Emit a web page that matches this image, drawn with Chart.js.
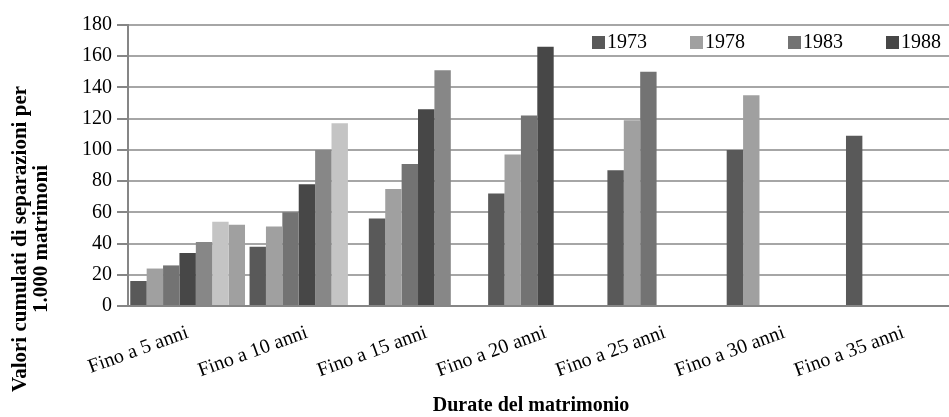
<!DOCTYPE html>
<html>
<head>
<meta charset="utf-8">
<script src="https://cdn.jsdelivr.net/npm/chart.js@4"></script>
<style>
  html, body { margin: 0; padding: 0; background: #fff; overflow: hidden; }
  #wrap { width: 949px; height: 417px; overflow: hidden; position: relative; }
  #wrap canvas { position: absolute; left: 0; top: 0; }
</style>
</head>
<body>
<div id="wrap"><canvas id="chart" width="975" height="417"></canvas></div>
<script>
// Categorie (durata del matrimonio)
const categories = ['Fino a 5 anni', 'Fino a 10 anni', 'Fino a 15 anni', 'Fino a 20 anni',
                    'Fino a 25 anni', 'Fino a 30 anni', 'Fino a 35 anni'];

// Valori cumulati per anno di matrimonio
const serie1973 = [16, 38, 56, 72, 87, 100, 109];
const serie1978 = [24, 51, 75, 97, 119, 135, null];
const serie1983 = [26, 60, 91, 122, 150, null, null];
const serie1988 = [34, 78, 126, 166, null, null, null];
const serie1993 = [41, 100, 151, null, null, null, null];
const serie1998 = [54, 117, null, null, null, null, null];
const serie2003 = [52, null, null, null, null, null, null];

const seriesLabels = ['1973', '1978', '1983', '1988', '1993', '1998', '2003'];
const seriesColors = ['#595959', '#a0a0a0', '#737373', '#474747', '#878787', '#c4c4c4', '#a0a0a0'];
const legendCount = 4; // solo le prime quattro voci in legenda

const yTicks = [0, 20, 40, 60, 80, 100, 120, 140, 160, 180];

const allSeries = [serie1973, serie1978, serie1983, serie1988, serie1993, serie1998, serie2003];

const FONT = '"Liberation Serif", "DejaVu Serif", serif';

// Legenda disegnata dentro l'area del grafico, in alto a destra
const legendInside = {
    id: 'legendInside',
    afterDraw(chart) {
        const ctx = chart.ctx;
        const area = chart.chartArea;
        const y = area.top + 17;
        let x = area.right - 371;
        ctx.save();
        ctx.font = '20px ' + FONT;
        ctx.textBaseline = 'middle';
        ctx.textAlign = 'left';
        for (let i = 0; i < legendCount; i++) {
            ctx.fillStyle = seriesColors[i];
            ctx.fillRect(x, y - 6, 13, 13);
            ctx.fillStyle = '#000';
            ctx.fillText(seriesLabels[i], x + 15, y + 1);
            x += 98;
        }
        ctx.restore();
    }
};

// Titoli degli assi, in grassetto
const axisTitles = {
    id: 'axisTitles',
    afterDraw(chart) {
        const ctx = chart.ctx;
        ctx.save();
        ctx.fillStyle = '#000';
        ctx.textAlign = 'center';
        ctx.textBaseline = 'middle';
        ctx.font = 'bold 20px ' + FONT;
        ctx.fillText('Durate del matrimonio', 531, 406);
        ctx.translate(31, 239);
        ctx.rotate(-Math.PI / 2);
        ctx.font = 'bold 21px ' + FONT;
        ctx.fillText('Valori cumulati di separazioni per', 0, -10);
        ctx.fillText('1.000 matrimoni', 0, 11);
        ctx.restore();
    }
};

new Chart(document.getElementById('chart').getContext('2d'), {
    type: 'bar',
    data: {
        labels: categories,
        datasets: allSeries.map((values, i) => ({
            label: seriesLabels[i],
            data: values,
            backgroundColor: seriesColors[i],
            borderWidth: 0,
            categoryPercentage: 0.962,
            barPercentage: 1.0
        }))
    },
    options: {
        responsive: false,
        animation: false,
        events: [],
        layout: { padding: { top: 25, right: 12, bottom: 0, left: 0 } },
        plugins: {
            legend: { display: false },
            tooltip: { enabled: false }
        },
        scales: {
            x: {
                grid: { display: false },
                border: { display: true, color: '#868686', width: 2 },
                ticks: {
                    color: '#000',
                    font: { family: FONT, size: 20 },
                    minRotation: 20,
                    maxRotation: 20,
                    padding: 7
                },
                afterFit(scale) { scale.height = 111; }
            },
            y: {
                min: 0,
                max: 180,
                afterBuildTicks(scale) { scale.ticks = yTicks.map(v => ({ value: v })); },
                grid: {
                    color: '#a6a6a6',
                    lineWidth: 2,
                    drawTicks: true,
                    tickLength: 11,
                    tickColor: '#868686'
                },
                border: { display: true, color: '#868686', width: 2 },
                ticks: {
                    color: '#000',
                    font: { family: FONT, size: 20 },
                    padding: 5
                },
                afterFit(scale) { scale.width = 128; }
            }
        }
    },
    plugins: [legendInside, axisTitles]
});
</script>
</body>
</html>
